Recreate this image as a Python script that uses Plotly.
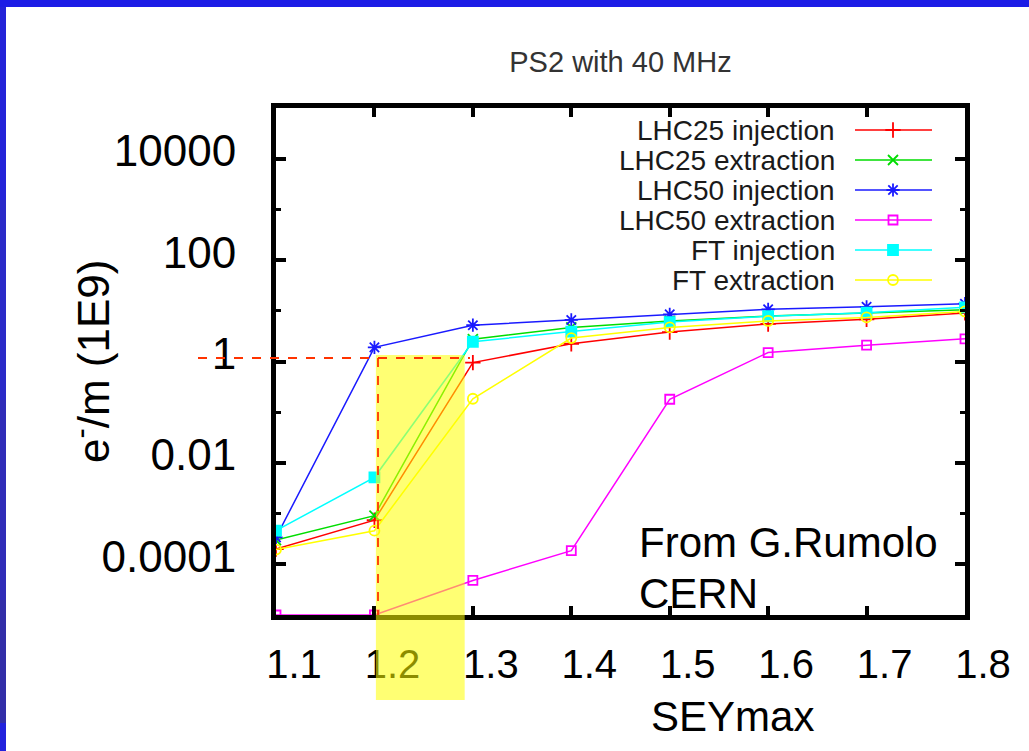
import plotly.graph_objects as go

# ---------------- data ----------------
sey = [1.1, 1.2, 1.3, 1.4, 1.5, 1.6, 1.7, 1.8]
x_ticktext = ["1.1", "1.2", "1.3", "1.4", "1.5", "1.6", "1.7", "1.8"]
y_tickvals = [1e-4, 1e-2, 1, 1e2, 1e4]
y_ticktext = ["0.0001", "0.01", "1", "100", "10000"]
y_minor = [1e-3, 1e-1, 10, 1e3]

series_names = ["LHC25 injection", "LHC25 extraction", "LHC50 injection",
                "LHC50 extraction", "FT injection", "FT extraction"]
lhc25_inj = [2.0e-4, 7.4e-4, 0.95, 2.24, 3.8, 5.5, 6.8, 9.1]
lhc25_ext = [3.0e-4, 9.1e-4, 2.75, 4.7, 6.3, 7.9, 9.1, 10.5]
lhc50_inj = [3.4e-4, 1.9, 5.2, 6.6, 8.5, 10.7, 12.0, 13.8]
lhc50_ext = [1e-5, 1e-5, 4.8e-5, 1.86e-4, 0.18, 1.5, 2.1, 2.8]
ft_inj = [4.6e-4, 5.2e-3, 2.45, 3.9, 6.0, 7.8, 9.2, 11.7]
ft_ext = [1.95e-4, 4.6e-4, 0.184, 2.9, 4.7, 6.3, 7.4, 9.7]
all_series = [lhc25_inj, lhc25_ext, lhc50_inj, lhc50_ext, ft_inj, ft_ext]

colors = ["#ff0000", "#00dd00", "#1a1aff", "#ff00ff", "#00ffff", "#ffff00"]
symbols = ["cross-thin", "x-thin", "asterisk", "square-open", "square", "circle-open"]
msizes = [11, 10, 11, 9, 10, 10]

highlight_x = [1.2015, 1.2917]   # yellow band on SEY axis

# ---------------- layout geometry ----------------
W, H = 1029, 751
PL, PR, PT, PB = 276, 965, 108, 615
FONT = "Liberation Sans, Arial, sans-serif"


def px(xp):
    return (xp - PL) / (PR - PL)


def py(yp):
    return (PB - yp) / (PB - PT)


fig = go.Figure()

for name, vals, c, s, ms in zip(series_names, all_series, colors, symbols, msizes):
    fig.add_trace(go.Scatter(
        x=sey, y=vals, name=name, mode="lines+markers",
        line=dict(color=c, width=1.5),
        marker=dict(symbol=s, size=ms, color=c, line=dict(color=c, width=1.8)),
        showlegend=False,
    ))

# custom gnuplot-style legend (text right, sample left) on a pixel overlay axis
for i, (name, c, s, ms) in enumerate(zip(series_names, colors, symbols, msizes)):
    ry = 130 + 30 * i
    fig.add_trace(go.Scatter(x=[855, 932], y=[ry, ry], mode="lines",
                             line=dict(color=c, width=1.5), xaxis="x2", yaxis="y2",
                             showlegend=False, cliponaxis=False, hoverinfo="skip"))
    fig.add_trace(go.Scatter(x=[893], y=[ry], mode="markers",
                             marker=dict(symbol=s, size=ms, color=c, line=dict(color=c, width=1.8)),
                             xaxis="x2", yaxis="y2",
                             showlegend=False, cliponaxis=False, hoverinfo="skip"))
    fig.add_annotation(x=837, y=ry, xref="x2", yref="y2", text=name, showarrow=False,
                       xanchor="right", yanchor="middle",
                       font=dict(family=FONT, size=28, color="#1a1a1a"))

axis_common = dict(showline=True, linewidth=5, linecolor="black", mirror="ticks",
                   ticks="inside", tickwidth=4, tickcolor="black", showgrid=False,
                   zeroline=False)

fig.update_layout(
    width=W, height=H,
    margin=dict(l=PL, r=W - PR, t=PT, b=H - PB),
    paper_bgcolor="white", plot_bgcolor="white",
    title=dict(text="PS2 with 40 MHz", x=0.5, xref="paper", xanchor="center",
               y=1 - 62 / H, yref="container", yanchor="middle",
               font=dict(family=FONT, size=29, color="#333333")),
    xaxis=dict(range=[1.1, 1.8], tickvals=sey, ticktext=x_ticktext, ticklen=9,
               tickfont=dict(family=FONT, size=40, color="black"),
               ticklabelshift=18, ticklabelstandoff=10, **axis_common),
    yaxis=dict(type="log", range=[-5, 5], tickvals=y_tickvals, ticktext=y_ticktext,
               ticklen=10, tickfont=dict(family=FONT, size=44, color="black"),
               ticklabelshift=-8, ticklabelstandoff=26,
               minor=dict(tickvals=y_minor, ticks="inside", ticklen=5, tickwidth=3,
                          tickcolor="black", showgrid=False),
               **axis_common),
    xaxis2=dict(overlaying="x", range=[PL, PR], visible=False),
    yaxis2=dict(overlaying="y", range=[PB, PT], visible=False),
)

# axis titles (slide overlay text)
fig.add_annotation(x=px(90), y=py(361), xref="paper", yref="paper",
                   text="e<sup>-</sup>/m (1E9)", textangle=-90, showarrow=False,
                   xanchor="center", yanchor="middle",
                   font=dict(family=FONT, size=44, color="black"))
fig.add_annotation(x=px(732), y=py(716), xref="paper", yref="paper", text="SEYmax",
                   showarrow=False, xanchor="center", yanchor="middle",
                   font=dict(family=FONT, size=42, color="black"))
fig.add_annotation(x=px(637), y=py(542), xref="paper", yref="paper", text="From G.Rumolo",
                   showarrow=False, xanchor="left", yanchor="middle",
                   font=dict(family=FONT, size=42, color="black"))
fig.add_annotation(x=px(637), y=py(593), xref="paper", yref="paper", text="CERN",
                   showarrow=False, xanchor="left", yanchor="middle",
                   font=dict(family=FONT, size=42, color="black"))

# yellow highlight band and red dashed guides
fig.add_shape(type="rect", xref="x", yref="paper", x0=highlight_x[0], x1=highlight_x[1],
              y0=py(700), y1=py(355), fillcolor="rgba(255,255,0,0.55)", line_width=0,
              layer="above")
fig.add_shape(type="line", xref="paper", yref="paper", x0=px(198), x1=px(470),
              y0=py(358), y1=py(358), line=dict(color="#ff3300", width=1.8, dash="dash"),
              layer="above")
fig.add_shape(type="line", xref="paper", yref="paper", x0=px(378), x1=px(378),
              y0=py(358), y1=py(615), line=dict(color="#ff3300", width=1.8, dash="dash"),
              layer="above")

# slide border (blue frame top and left)
fig.add_shape(type="rect", xref="paper", yref="paper", x0=px(0), x1=px(W), y0=py(0), y1=py(7),
              fillcolor="#1c1ce6", line_width=0, layer="above")
left_cols = ["#2323d8", "#2a2ac8", "#302cb8", "#322ea8", "#2222dd"]
left_bounds = [7, 200, 400, 600, 723, 751]
for c, y0, y1 in zip(left_cols, left_bounds[:-1], left_bounds[1:]):
    fig.add_shape(type="rect", xref="paper", yref="paper", x0=px(0), x1=px(6),
                  y0=py(y0), y1=py(y1), fillcolor=c, line_width=0, layer="above")

fig.write_html("out.html", config={"displayModeBar": False},
               post_script="document.body.style.margin='0px';document.body.style.overflow='hidden';")
